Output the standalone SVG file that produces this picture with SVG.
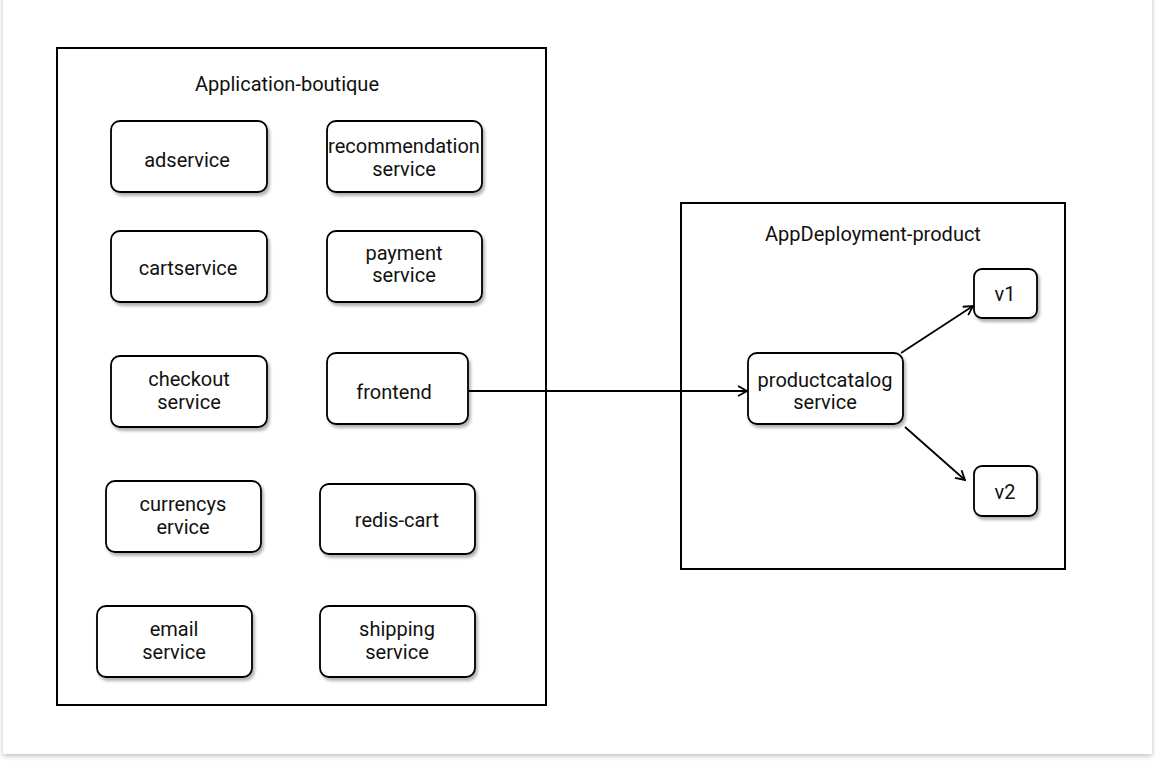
<svg xmlns="http://www.w3.org/2000/svg" width="1156" height="763" viewBox="0 0 1156 763">
<defs>
<filter id="card" x="-5%" y="-5%" width="110%" height="110%"><feDropShadow dx="0" dy="2" stdDeviation="2.5" flood-color="#000" flood-opacity="0.25"/></filter>
<filter id="sh" x="-20%" y="-20%" width="140%" height="150%"><feDropShadow dx="2" dy="3" stdDeviation="1.5" flood-color="#000" flood-opacity="0.3"/></filter>
<marker id="open" viewBox="0 0 12 12" refX="11" refY="6" markerWidth="12" markerHeight="12" markerUnits="userSpaceOnUse" orient="auto"><path d="M2,1 L11,6 L2,11" fill="none" stroke="#000" stroke-width="1.8"/></marker>
<style>
.n rect{fill:#fff;stroke:#000;stroke-width:1.8;filter:url(#sh)}
.c{fill:#fff;stroke:#000;stroke-width:2}
text{font-family:Roboto,"Liberation Sans",sans-serif;font-size:20px;fill:#111;text-anchor:middle}
.e{fill:none;stroke:#000;stroke-width:1.8}
</style>
</defs>
<rect width="1156" height="763" fill="#fff"/>
<rect x="3" y="-5" width="1149" height="759" fill="#fff" filter="url(#card)"/>
<g id="app-boutique"><rect class="c" x="57" y="48" width="489" height="657"/><text x="287" y="91">Application-boutique</text></g>
<g id="app-deployment"><rect class="c" x="681" y="203" width="384" height="366"/><text x="873" y="241">AppDeployment-product</text></g>
<g id="adservice" class="n"><rect x="111" y="121" width="156" height="71" rx="9"/><text x="187" y="167">adservice</text></g>
<g id="recommendation" class="n"><rect x="327" y="121" width="155" height="71" rx="9"/><text x="404" y="153">recommendation</text><text x="404" y="176">service</text></g>
<g id="cartservice" class="n"><rect x="111" y="231" width="156" height="71" rx="9"/><text x="188" y="275">cartservice</text></g>
<g id="payment" class="n"><rect x="327" y="231" width="155" height="71" rx="9"/><text x="404" y="260">payment</text><text x="404" y="282">service</text></g>
<g id="checkout" class="n"><rect x="111" y="356" width="156" height="71" rx="9"/><text x="189" y="386">checkout</text><text x="189" y="409">service</text></g>
<g id="frontend" class="n"><rect x="327" y="353" width="141" height="71" rx="9"/><text x="394" y="399">frontend</text></g>
<g id="currency" class="n"><rect x="106" y="481" width="155" height="71" rx="9"/><text x="183" y="511">currencys</text><text x="183" y="534">ervice</text></g>
<g id="redis-cart" class="n"><rect x="320" y="484" width="155" height="70" rx="9"/><text x="397" y="527">redis-cart</text></g>
<g id="email" class="n"><rect x="97" y="606" width="155" height="71" rx="9"/><text x="174" y="636">email</text><text x="174" y="659">service</text></g>
<g id="shipping" class="n"><rect x="320" y="606" width="155" height="71" rx="9"/><text x="397" y="636">shipping</text><text x="397" y="659">service</text></g>
<g id="productcatalog" class="n"><rect x="748" y="353" width="155" height="71" rx="9"/><text x="825" y="387">productcatalog</text><text x="825" y="409">service</text></g>
<g id="v1" class="n"><rect x="974" y="269" width="63" height="49" rx="8"/><text x="1005" y="301">v1</text></g>
<g id="v2" class="n"><rect x="974" y="466" width="63" height="50" rx="8"/><text x="1005" y="499">v2</text></g>
<g id="connectors">
<path class="e" d="M468,391 L747,391" marker-end="url(#open)"/>
<path class="e" d="M901,353 L973,306" marker-end="url(#open)"/>
<path class="e" d="M905,427 L965,480" marker-end="url(#open)"/>
</g>
</svg>
